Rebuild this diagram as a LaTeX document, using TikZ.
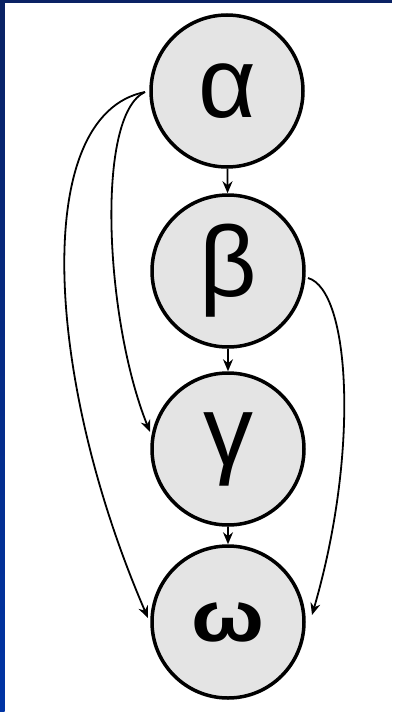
\documentclass[tikz,border=0pt]{standalone}
\usepackage{fontspec}
\setmainfont{Liberation Sans}
\usetikzlibrary{arrows.meta}
\definecolor{navytop}{RGB}{10,34,100}
\definecolor{navybot}{RGB}{0,52,165}
\definecolor{nodegray}{RGB}{228,228,228}
\begin{document}
\begin{tikzpicture}[x=1pt,y=-1pt,
  var/.style={circle,draw=black,line width=3.5pt,fill=nodegray,minimum size=152pt,inner sep=0pt,
    font=\fontsize{100}{100}\selectfont},
  edge/.style={line width=1.8pt,-{Stealth[length=12pt,width=10pt]}}]
\useasboundingbox (0,0) rectangle (392,712);
\fill[white] (0,0) rectangle (392,712);
\shade[top color=navytop,bottom color=navybot] (0,0) rectangle (4.5,712);
\fill[navytop] (0,0) rectangle (392,2.5);
\node[var] (a) at (227,91) {α};
\node[var] (b) at (228,271) {β};
\node[var] (c) at (228,449) {γ};
\node[var] (d) at (228,622) {\scalebox{1.2}[1]{\fontsize{72}{72}\selectfont\bfseries ω}};
\coordinate (as) at (145,92);
\coordinate (bs) at (308,278);
\draw[edge] (a) -- (b);
\draw[edge] (b) -- (c);
\draw[edge] (c) -- (d);
\draw[edge] (as) .. controls (95,115) and (105,320) .. (150,432);
\draw[edge] (as) .. controls (30,115) and (45,380) .. (148,618);
\draw[edge] (bs) .. controls (350,290) and (360,450) .. (312,615);
\end{tikzpicture}
\end{document}
